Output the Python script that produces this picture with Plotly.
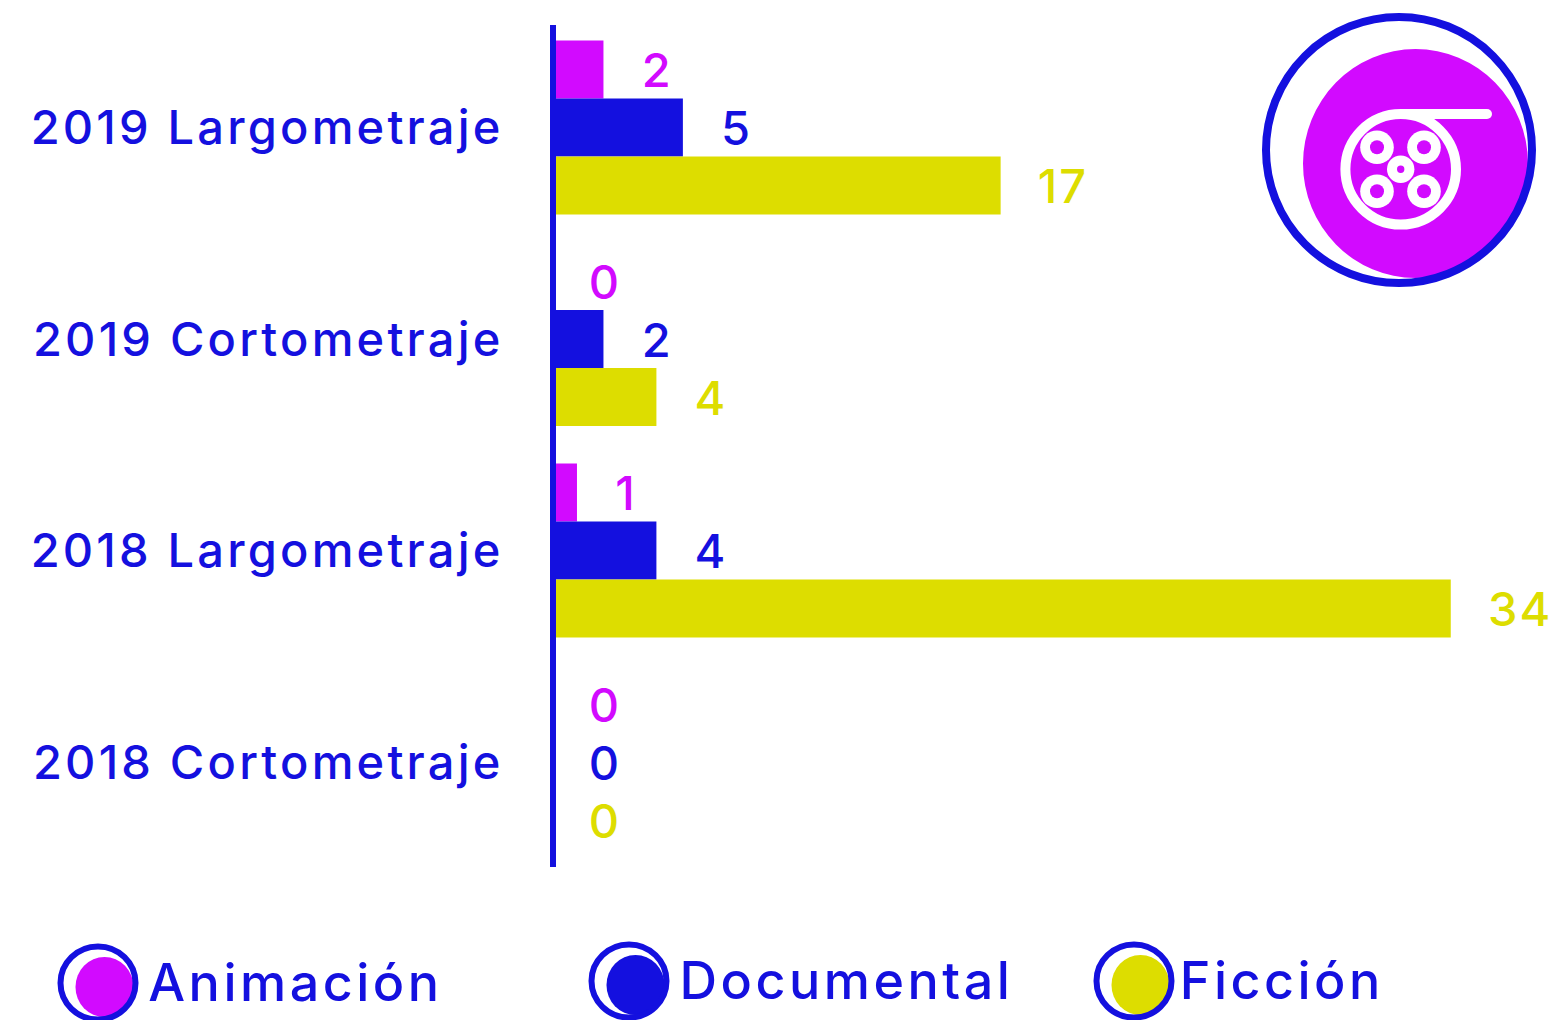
import plotly.graph_objects as go

categories = ['2019 Largometraje', '2019 Cortometraje', '2018 Largometraje', '2018 Cortometraje']
animacion = [2, 0, 1, 0]
documental = [5, 2, 4, 0]
ficcion = [17, 4, 34, 0]
legend_names = ['Animación', 'Documental', 'Ficción']

W = 1558
H = 1020
MAGENTA = '#D20AFF'
BLUE = '#1410DF'
YELLOW = '#DDDD00'
FONT = 'Inter'
PAD = '\u00a0\u00a0\u2009'  # pushes the value labels away from the bar ends

# the original font is wider than anything installed, so open the letters up
SPACING_CSS = """
var style = document.createElement('style');
style.innerHTML = '.ytick text {letter-spacing: 3.2px;} .annotation-text {letter-spacing: 3.5px;} .bartext {letter-spacing: 2px;}';
document.head.appendChild(style);
document.body.style.margin = '0';
document.body.style.overflow = 'hidden';
window.dispatchEvent(new Event('resize'));
"""


def px(x):
    return x / W


def py(y):
    return 1 - y / H


def circle(cx, cy, rx, ry=None, fill=None, line=None, lw=0):
    ry = rx if ry is None else ry
    return dict(
        type='circle', xref='paper', yref='paper', layer='above',
        x0=px(cx - rx), x1=px(cx + rx), y0=py(cy + ry), y1=py(cy - ry),
        fillcolor=fill if fill else 'rgba(0,0,0,0)',
        line=dict(color=line if line else 'rgba(0,0,0,0)', width=lw),
    )


fig = go.Figure()
for name, values, color in [('Animación', animacion, MAGENTA),
                            ('Documental', documental, BLUE),
                            ('Ficción', ficcion, YELLOW)]:
    fig.add_trace(go.Bar(
        y=categories,
        x=values,
        name=name,
        orientation='h',
        marker=dict(color=color, line=dict(width=0)),
        text=[PAD + str(v) for v in values],
        textposition='outside',
        textfont=dict(family=FONT, size=47, color=color, weight=500),
        constraintext='none',
        cliponaxis=False,
        showlegend=False,
    ))

shapes = []

# axis line, sits over the start of the bars
shapes.append(dict(type='line', xref='paper', yref='paper', layer='above',
                   x0=px(553), x1=px(553), y0=py(867), y1=py(25),
                   line=dict(color=BLUE, width=6)))

# film reel badge
shapes.append(circle(1415.5, 163.5, 112.5, 114.5, fill=MAGENTA))
shapes.append(circle(1399, 150, 133, line=BLUE, lw=8))
shapes.append(circle(1400.7, 169.3, 55.3, line='white', lw=10))
shapes.append(dict(type='rect', xref='paper', yref='paper', layer='above',
                   x0=px(1400), x1=px(1487), y0=py(119), y1=py(109),
                   fillcolor='white', line=dict(width=0)))
shapes.append(circle(1487, 114, 5, fill='white'))
for cx, cy in [(1377, 147.3), (1424, 147.3), (1377, 191.3), (1424, 191.3)]:
    shapes.append(circle(cx, cy, 16.8, fill='white'))
    shapes.append(circle(cx, cy, 7, fill=MAGENTA))
shapes.append(circle(1400.7, 169.3, 13.7, fill='white'))
shapes.append(circle(1400.7, 169.3, 3.7, fill=MAGENTA))

# hand made legend, labels centred because the spacing widens them both ways
annotations = []
for name, color, ring_x, ring_y, text_x, text_y in [
        (legend_names[0], MAGENTA, 98, 983, 295, 982),
        (legend_names[1], BLUE, 629, 981, 847, 980),
        (legend_names[2], YELLOW, 1134, 981, 1282, 980)]:
    shapes.append(circle(ring_x + 6.5, ring_y + 4, 29, 30, fill=color))
    shapes.append(circle(ring_x, ring_y, 37.5, 36.5, line=BLUE, lw=6))
    annotations.append(dict(
        text=name, xref='paper', yref='paper', showarrow=False,
        x=px(text_x), y=py(text_y), xanchor='center', yanchor='middle',
        font=dict(family=FONT, size=52, color=BLUE, weight=500),
    ))

fig.update_layout(
    width=W,
    height=H,
    margin=dict(l=0, r=0, t=0, b=0),
    paper_bgcolor='white',
    plot_bgcolor='white',
    barmode='group',
    bargap=0.177,
    bargroupgap=0,
    shapes=shapes,
    annotations=annotations,
)

fig.update_xaxes(visible=False, domain=[px(550.5), 1], range=[0, 38.05])
fig.update_yaxes(
    domain=[py(867), py(25)],
    type='category',
    categoryorder='array',
    categoryarray=categories,
    range=[3.496, -0.485],
    showgrid=False,
    zeroline=False,
    showline=False,
    ticks='',
    ticklabelstandoff=46,
    tickfont=dict(family=FONT, size=47, color=BLUE, weight=500),
)

fig.write_html("out.html", config=dict(displayModeBar=False), post_script=SPACING_CSS)
